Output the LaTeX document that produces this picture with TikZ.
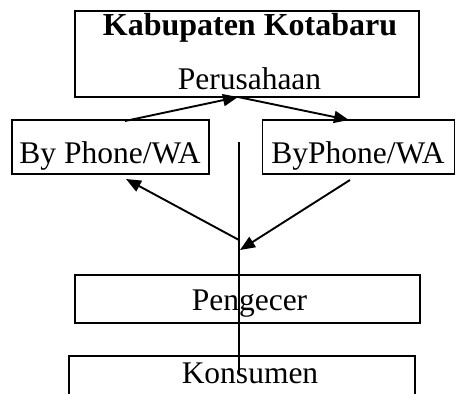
\documentclass[tikz,border=0pt]{standalone}
\usepackage{fontspec}
\setmainfont{Liberation Serif}
\usetikzlibrary{arrows.meta}
\begin{document}
\begin{tikzpicture}[x=1pt,y=-1pt,
  box/.style={draw,line width=1.4pt,inner sep=0pt,outer sep=0pt},
  lbl/.style={anchor=base,inner sep=0pt,font=\fontsize{31.5}{32}\selectfont},
  arr/.style={line width=1.9pt,-{Triangle[length=15pt,width=12pt]}},
  ln/.style={line width=1.5pt}]
\useasboundingbox (0,0) rectangle (456,394);
% boxes
\node[box,minimum width=344pt,minimum height=86pt] (top) at (247,54) {};
\node[box,minimum width=197pt,minimum height=54pt] (left) at (110.5,147) {};
\node[box,minimum width=192pt,minimum height=54pt] (right) at (358.5,147) {};
\node[box,minimum width=345pt,minimum height=48pt] (peng) at (247.5,299) {};
\begin{scope}
\clip (0,0) rectangle (456,394);
\node[box,minimum width=346pt,minimum height=60pt] (kons) at (242,386) {};
\end{scope}
% texts
\node[lbl,font=\fontsize{32}{32}\selectfont\bfseries] (t1) at (250,35) {Kabupaten Kotabaru};
\node[lbl] (t2) at (249.5,89) {Perusahaan};
\node[lbl] (t3) at (110,163) {By Phone/WA};
\node[lbl] (t4) at (358,163) {ByPhone/WA};
\node[lbl] (t5) at (249.5,310) {Pengecer};
\node[lbl] (t6) at (250,383) {Konsumen};
% connector points
\coordinate (hub) at (238,97);
\coordinate (lt) at (125,121);
\coordinate (rt) at (349,120);
\coordinate (lb) at (126,179);
\coordinate (rb) at (350,180);
\coordinate (c1) at (239,240);
\coordinate (c2) at (240,250);
\coordinate (vtop) at (239,142);
\coordinate (vbot) at (239,373);
% connectors
\draw[arr] (lt) -- (hub);
\draw[arr] (hub) -- (rt);
\draw[ln] (vtop) -- (vbot);
\draw[arr] (c1) -- (lb);
\draw[arr] (rb) -- (c2);
\end{tikzpicture}
\end{document}
